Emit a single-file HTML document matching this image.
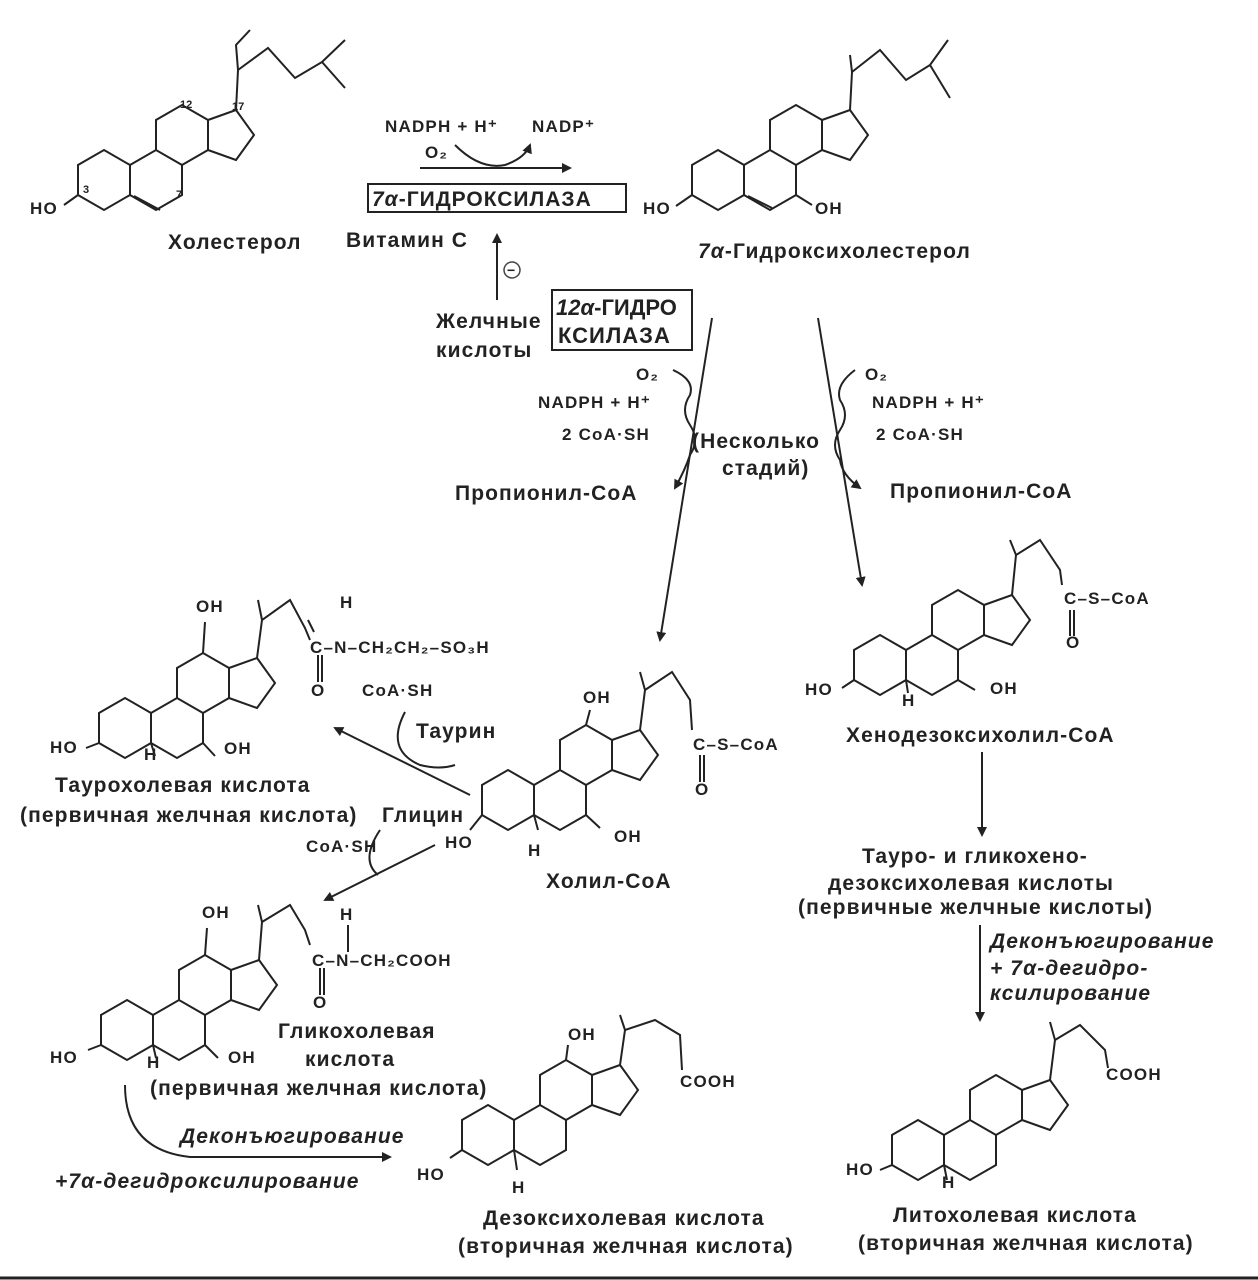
<!DOCTYPE html>
<html><head><meta charset="utf-8"><style>
html,body{margin:0;padding:0;background:#fff}
svg{display:block}
text{font-family:"Liberation Sans",sans-serif;font-weight:bold;fill:#222}
.t{font-size:21px;letter-spacing:1.1px}
.s{font-size:17px;letter-spacing:1.2px}
.i{font-style:italic}
</style></head><body>
<svg width="1258" height="1280" viewBox="0 0 1258 1280" xmlns="http://www.w3.org/2000/svg">
<defs>
<g id="st" fill="none" stroke="#222" stroke-width="2">
<path d="M0,-30 L26,-15 L26,15 L0,30 L-26,15 L-26,-15 Z"/>
<path d="M26,-15 L52,-30 L78,-15 L78,15 L52,30 L26,15"/>
<path d="M52,-30 L52,-60 L78,-75 L104,-60 L104,-30 L78,-15"/>
<path d="M104,-60 L132,-70 L150,-45 L132,-20 L104,-30"/>
</g>
<marker id="ah" markerWidth="10" markerHeight="10" refX="8" refY="5" orient="auto" markerUnits="userSpaceOnUse"><path d="M0,0 L10,5 L0,10 Z" fill="#222"/></marker>
</defs>
<g stroke="#222" stroke-width="2" fill="none">
<!-- Cholesterol -->
<use href="#st" transform="translate(104,180)"/>
<path d="M236,110 L238,70 L268,48 L295,78 L322,62 L345,88 M322,62 L345,40 M238,70 L236,45 L250,30"/>
<path d="M134,196 L160,210" />
<path d="M78,195 L64,205"/>
<!-- 7a-hydroxycholesterol -->
<use href="#st" transform="translate(718,180)"/>
<path d="M850,110 L852,72 L850,55 M852,72 L880,50 L906,80 L930,65 L950,98 M930,65 L948,40"/>
<path d="M748,196 L772,208"/>
<path d="M692,195 L676,206"/>
<path d="M796,195 L812,205"/>
<!-- Taurocholic -->
<use href="#st" transform="translate(125,728)"/>
<path d="M257,658 L262,620 L290,600 L305,628 L310,640 M262,620 L258,600"/>
<path d="M203,653 L205,622 M203,743 L215,756 M99,743 L86,748 M151,743 L155,756"/>
<!-- Cholyl-CoA -->
<use href="#st" transform="translate(508,800)"/>
<path d="M640,730 L645,690 L672,672 L690,700 L692,730 M645,690 L640,672"/>
<path d="M586,725 L590,710 M586,815 L600,828 M482,815 L470,830 M534,815 L538,830"/>
<!-- Glycocholic -->
<use href="#st" transform="translate(127,1030)"/>
<path d="M259,960 L262,922 L290,905 L305,930 L310,945 M262,922 L258,905"/>
<path d="M205,955 L207,928 M205,1045 L218,1058 M101,1045 L88,1050 M153,1045 L156,1058"/>
<!-- Chenodeoxycholyl-CoA -->
<use href="#st" transform="translate(880,665)"/>
<path d="M1012,595 L1016,555 L1040,540 L1060,570 L1062,585 M1016,555 L1010,540"/>
<path d="M958,680 L975,690 M854,680 L842,688 M906,680 L908,693"/>
<!-- Deoxycholic -->
<use href="#st" transform="translate(488,1135)"/>
<path d="M620,1065 L625,1030 L655,1020 L680,1035 L682,1070 M625,1030 L620,1015"/>
<path d="M566,1060 L568,1045 M462,1150 L450,1158 M514,1150 L517,1170"/>
<!-- Lithocholic -->
<use href="#st" transform="translate(918,1150)"/>
<path d="M1050,1080 L1055,1040 L1080,1025 L1105,1050 L1108,1068 M1055,1040 L1050,1022"/>
<path d="M892,1165 L880,1170 M944,1165 L947,1180"/>
</g>
<!-- carbonyls -->
<g stroke="#222" stroke-width="2" fill="none">
<path d="M318,655 L318,682 M322,655 L322,682 M314,632 L308,620"/>
<path d="M700,755 L700,782 M704,755 L704,782"/>
<path d="M320,968 L320,995 M324,968 L324,995 M348,952 L348,925"/>
<path d="M1070,610 L1070,636 M1074,610 L1074,636"/>
</g>
<!-- Arrows -->
<g stroke="#222" stroke-width="2" fill="none">
<path d="M420,168 L570,168" marker-end="url(#ah)"/>
<path d="M455,145 Q480,170 505,165 Q525,158 530,145" marker-end="url(#ah)"/>
<path d="M497,300 L497,235" marker-end="url(#ah)"/>
<path d="M712,318 L660,640" marker-end="url(#ah)"/>
<path d="M818,318 L862,585" marker-end="url(#ah)"/>
<path d="M673,370 Q695,380 690,395 Q680,410 690,425 Q700,440 690,455 Q685,470 675,488" marker-end="url(#ah)"/>
<path d="M855,370 Q835,385 840,400 Q850,415 840,430 Q830,445 840,460 Q842,475 860,488" marker-end="url(#ah)"/>
<path d="M470,795 L335,728" marker-end="url(#ah)"/>
<path d="M405,712 Q385,750 420,765 Q440,770 455,765"/>
<path d="M435,845 L325,900" marker-end="url(#ah)"/>
<path d="M380,830 Q360,860 378,875"/>
<path d="M982,752 L982,835" marker-end="url(#ah)"/>
<path d="M980,925 L980,1020" marker-end="url(#ah)"/>
<path d="M125,1085 Q125,1150 190,1157 L390,1157" marker-end="url(#ah)"/>
</g>
<rect x="368" y="184" width="258" height="28" fill="none" stroke="#222" stroke-width="2"/>
<rect x="552" y="290" width="140" height="60" fill="none" stroke="#222" stroke-width="2"/>
<circle cx="512" cy="270" r="8" fill="none" stroke="#444" stroke-width="1.5"/>
<text x="507" y="275" style="font-size:14px">−</text>
<!-- Labels -->
<text x="30" y="214" class="s">HO</text>
<text x="83" y="193" style="font-size:11px">3</text>
<text x="176" y="198" style="font-size:11px">7</text>
<text x="180" y="108" style="font-size:11px">12</text>
<text x="232" y="110" style="font-size:11px">17</text>
<text x="168" y="249" class="t">Холестерол</text>
<text x="346" y="247" class="t">Витамин С</text>
<text x="385" y="132" class="s">NADPH + H⁺</text>
<text x="532" y="132" class="s">NADP⁺</text>
<text x="425" y="158" class="s">O₂</text>
<text x="372" y="206" style="font-size:21px;letter-spacing:1px"><tspan class="i">7α</tspan>-ГИДРОКСИЛАЗА</text>
<text x="556" y="315" style="font-size:22px"><tspan class="i">12α</tspan>-ГИДРО</text>
<text x="558" y="343" style="font-size:22px;letter-spacing:1px">КСИЛАЗА</text>
<text x="436" y="328" class="t">Желчные</text>
<text x="436" y="357" class="t">кислоты</text>
<text x="643" y="214" class="s">HO</text>
<text x="815" y="214" class="s">OH</text>
<text x="698" y="258" class="t"><tspan class="i">7α</tspan>-Гидроксихолестерол</text>
<text x="636" y="380" class="s">O₂</text>
<text x="538" y="408" class="s">NADPH + H⁺</text>
<text x="562" y="440" class="s">2 CoA·SH</text>
<text x="692" y="448" class="t">(Несколько</text>
<text x="722" y="475" class="t">стадий)</text>
<text x="455" y="500" class="t">Пропионил-СоА</text>
<text x="865" y="380" class="s">O₂</text>
<text x="872" y="408" class="s">NADPH + H⁺</text>
<text x="876" y="440" class="s">2 CoA·SH</text>
<text x="890" y="498" class="t">Пропионил-СоА</text>
<!-- Taurocholic labels -->
<text x="196" y="612" class="s">OH</text>
<text x="340" y="608" class="s">H</text>
<text x="310" y="653" class="s">C–N–CH₂CH₂–SO₃H</text>
<text x="311" y="696" class="s">O</text>
<text x="362" y="696" class="s">CoA·SH</text>
<text x="416" y="738" class="t">Таурин</text>
<text x="50" y="753" class="s">HO</text>
<text x="144" y="760" class="s">H</text>
<text x="224" y="754" class="s">OH</text>
<text x="55" y="792" class="t">Таурохолевая кислота</text>
<text x="20" y="822" class="t">(первичная желчная кислота)</text>
<text x="382" y="822" class="t">Глицин</text>
<text x="306" y="852" class="s">CoA·SH</text>
<!-- Cholyl-CoA -->
<text x="583" y="703" class="s">OH</text>
<text x="693" y="750" class="s">C–S–CoA</text>
<text x="695" y="795" class="s">O</text>
<text x="445" y="848" class="s">HO</text>
<text x="528" y="856" class="s">H</text>
<text x="614" y="842" class="s">OH</text>
<text x="546" y="888" class="t">Холил-СоА</text>
<!-- Glycocholic -->
<text x="202" y="918" class="s">OH</text>
<text x="340" y="920" class="s">H</text>
<text x="312" y="966" class="s">C–N–CH₂COOH</text>
<text x="313" y="1008" class="s">O</text>
<text x="50" y="1063" class="s">HO</text>
<text x="147" y="1068" class="s">H</text>
<text x="228" y="1063" class="s">OH</text>
<text x="278" y="1038" class="t">Гликохолевая</text>
<text x="305" y="1066" class="t">кислота</text>
<text x="150" y="1095" class="t">(первичная  желчная кислота)</text>
<text x="180" y="1143" class="t i">Деконъюгирование</text>
<text x="55" y="1188" class="t i">+7α-дегидроксилирование</text>
<!-- Deoxycholic -->
<text x="568" y="1040" class="s">OH</text>
<text x="680" y="1087" class="s">COOH</text>
<text x="417" y="1180" class="s">HO</text>
<text x="512" y="1193" class="s">H</text>
<text x="483" y="1225" class="t">Дезоксихолевая кислота</text>
<text x="458" y="1253" class="t">(вторичная желчная кислота)</text>
<!-- Chenodeoxycholyl -->
<text x="1064" y="604" class="s">C–S–CoA</text>
<text x="1066" y="648" class="s">O</text>
<text x="805" y="695" class="s">HO</text>
<text x="902" y="706" class="s">H</text>
<text x="990" y="694" class="s">OH</text>
<text x="846" y="742" class="t">Хенодезоксихолил-СоА</text>
<text x="862" y="863" class="t">Тауро- и гликохено-</text>
<text x="828" y="890" class="t">дезоксихолевая кислоты</text>
<text x="798" y="914" class="t">(первичные желчные кислоты)</text>
<text x="990" y="948" class="t i">Деконъюгирование</text>
<text x="990" y="975" class="t i">+ 7α-дегидро-</text>
<text x="990" y="1000" class="t i">ксилирование</text>
<!-- Lithocholic -->
<text x="1106" y="1080" class="s">COOH</text>
<text x="846" y="1175" class="s">HO</text>
<text x="942" y="1188" class="s">H</text>
<text x="893" y="1222" class="t">Литохолевая кислота</text>
<text x="858" y="1250" class="t">(вторичная желчная кислота)</text>
<line x1="0" y1="1278" x2="1258" y2="1278" stroke="#222" stroke-width="3"/>
</svg>
</body></html>
